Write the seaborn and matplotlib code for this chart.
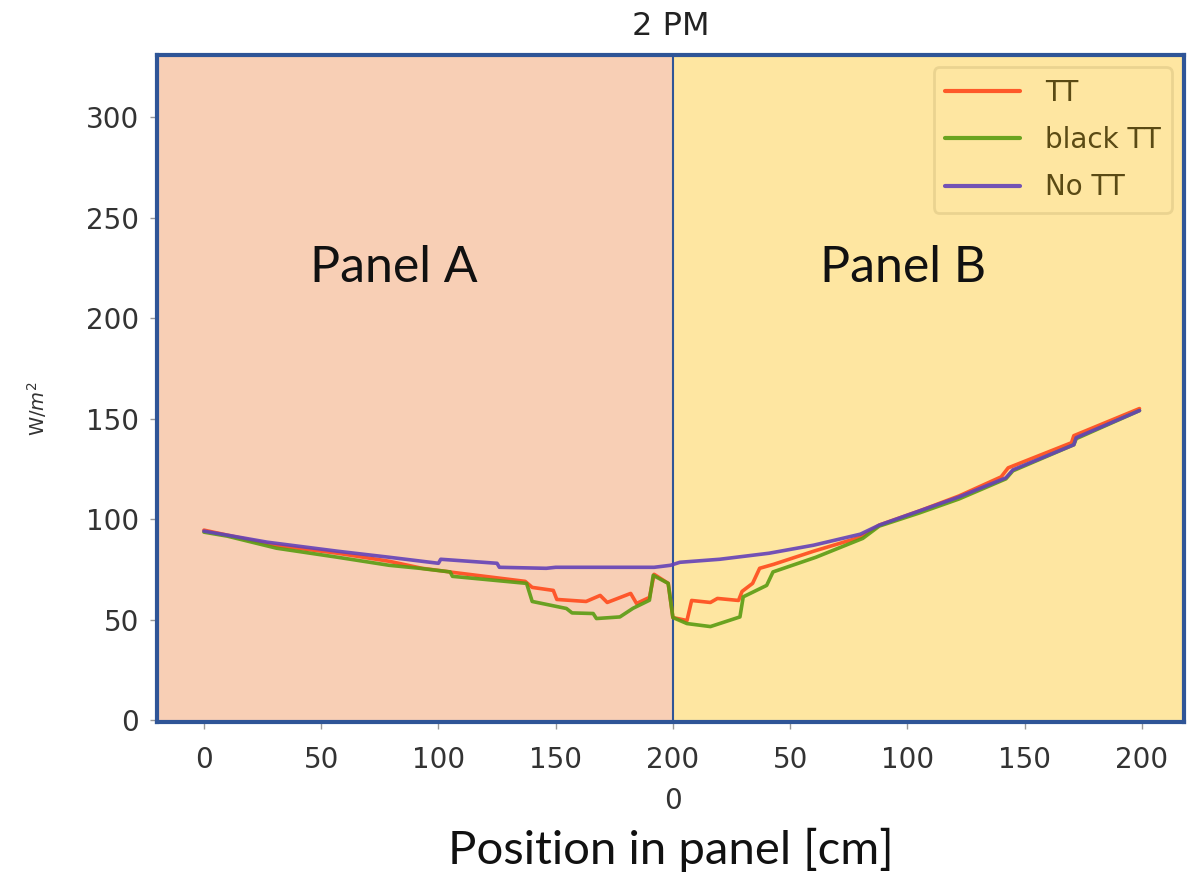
import pandas as pd
import matplotlib
matplotlib.use('Agg')
import matplotlib.pyplot as plt
import seaborn as sns

# irradiance along the two panels (panel A: 0-200, panel B: 200-400 on the shared axis)
x_tt = [0, 10, 30, 57, 79, 93, 103, 106, 137, 140, 149, 150.5, 163, 169, 172, 182, 184.5, 190, 192,
        198, 200, 206, 208, 216, 219, 228, 229.5, 234, 237, 243, 260, 280, 288, 305, 322, 340, 343,
        370, 371, 399]
y_tt = [94.5, 92, 87, 83, 79, 75.5, 74, 73.5, 69, 66, 64.5, 60, 59, 62, 58.5, 63, 58, 61, 72.5,
        68, 51, 49.5, 59.5, 58.5, 60.5, 59.5, 64, 68, 75.5, 77.5, 84, 91, 97, 104, 111.5, 121, 125.5,
        138, 141.5, 155]

x_black = [0, 10, 31, 57, 79, 92, 105, 106, 137.6, 140, 154.6, 157, 166, 167.4, 177.4, 183, 190,
           191.6, 198, 200, 206, 216, 228.6, 230, 240, 242.7, 261, 281, 288, 305, 322, 342, 345,
           371, 372, 399]
y_black = [93.5, 91.5, 85.5, 81, 77, 75.5, 73.7, 71.5, 68, 59, 55.5, 53.3, 53, 50.5, 51.3, 55.6, 59.6,
           72, 68, 51, 48, 46.5, 51.3, 61.3, 67, 73.7, 81, 90.4, 96.5, 103, 110, 120, 124,
           137, 140, 154]

x_no = [0, 10, 27, 57, 79, 100, 101, 125, 126, 146, 150, 170, 192, 199, 203, 220, 241, 260, 280,
        288, 305, 322, 342, 345, 371, 372, 399]
y_no = [94, 92, 88.5, 84, 81, 78, 80, 78, 76, 75.5, 76, 76, 76, 77, 78.5, 80, 83, 87, 92.5,
        97, 104, 111, 120.5, 124.5, 137, 140.5, 154]

series_names = ['TT', 'black TT', 'No TT']
series_colors = ['#ff4a1c', '#5a9c12', '#6442b8']
tick_pos = [0, 50, 100, 150, 200, 250, 300, 350, 400]
tick_labels = ['0', '50', '100', '150', '200\n0', '50', '100', '150', '200']
panel_len = 200

df = pd.concat([
    pd.DataFrame({'pos': x_tt, 'irr': y_tt, 'series': 'TT'}),
    pd.DataFrame({'pos': x_black, 'irr': y_black, 'series': 'black TT'}),
    pd.DataFrame({'pos': x_no, 'irr': y_no, 'series': 'No TT'}),
])

sns.set_style('ticks')
plt.rcParams['font.family'] = ['DejaVu Sans']

fig = plt.figure(figsize=(11.87, 8.72), dpi=100)
ax = fig.add_axes([0.1323, 0.172, 0.8652, 0.765])

ax.set_xlim(-20, 418)
ax.set_ylim(-1, 331)

# panel backgrounds
ax.axvspan(-20, panel_len, color='#f8cfb5', zorder=0, lw=0)
ax.axvspan(panel_len, 418, color='#fee6a1', zorder=0, lw=0)
ax.axvline(panel_len, color='#2f5597', lw=1.5, zorder=1)

sns.lineplot(data=df, x='pos', y='irr', hue='series', hue_order=series_names,
             palette=dict(zip(series_names, series_colors)), estimator=None, sort=True,
             linewidth=2.6, alpha=0.9, ax=ax)

for s in ax.spines.values():
    s.set_visible(True)
    s.set_color('#2f5597')
    s.set_linewidth(3)

ax.set_xticks(tick_pos)
ax.set_xticklabels(tick_labels, linespacing=1.6)
ax.set_yticks([0, 50, 100, 150, 200, 250, 300])
ax.tick_params(axis='both', labelsize=20, colors='#999999', labelcolor='#333333', length=5, width=1)
ax.tick_params(axis='x', pad=12)
ax.tick_params(axis='y', pad=8)

ax.set_title('2 PM', fontsize=23, color='#222222', pad=14)
ax.set_ylabel('W/$m^2$', fontsize=14, color='#333333')
ax.yaxis.set_label_coords(-0.105, 0.47)
ax.set_xlabel('Position in panel [cm]', fontsize=34, family='Lato', color='#111111', va='center')
ax.xaxis.set_label_coords(0.5, -0.192)

ax.text(81, 225, 'Panel A', fontsize=36, family='Lato', ha='center', va='center', color='#111111')
ax.text(298, 225, 'Panel B', fontsize=36, family='Lato', ha='center', va='center', color='#111111')

leg = ax.legend(loc='upper right', fontsize=20, labelspacing=0.7, handlelength=2.7,
                handletextpad=0.9, borderaxespad=0.45, frameon=True, fancybox=True)
leg.get_frame().set_facecolor('#fee6a1')
leg.get_frame().set_edgecolor('#e6cf8c')
leg.get_frame().set_linewidth(2)
for t in leg.get_texts():
    t.set_color('#5a4a14')
for h in leg.get_lines():
    h.set_linewidth(3)

fig.savefig('out.png', dpi=100)
